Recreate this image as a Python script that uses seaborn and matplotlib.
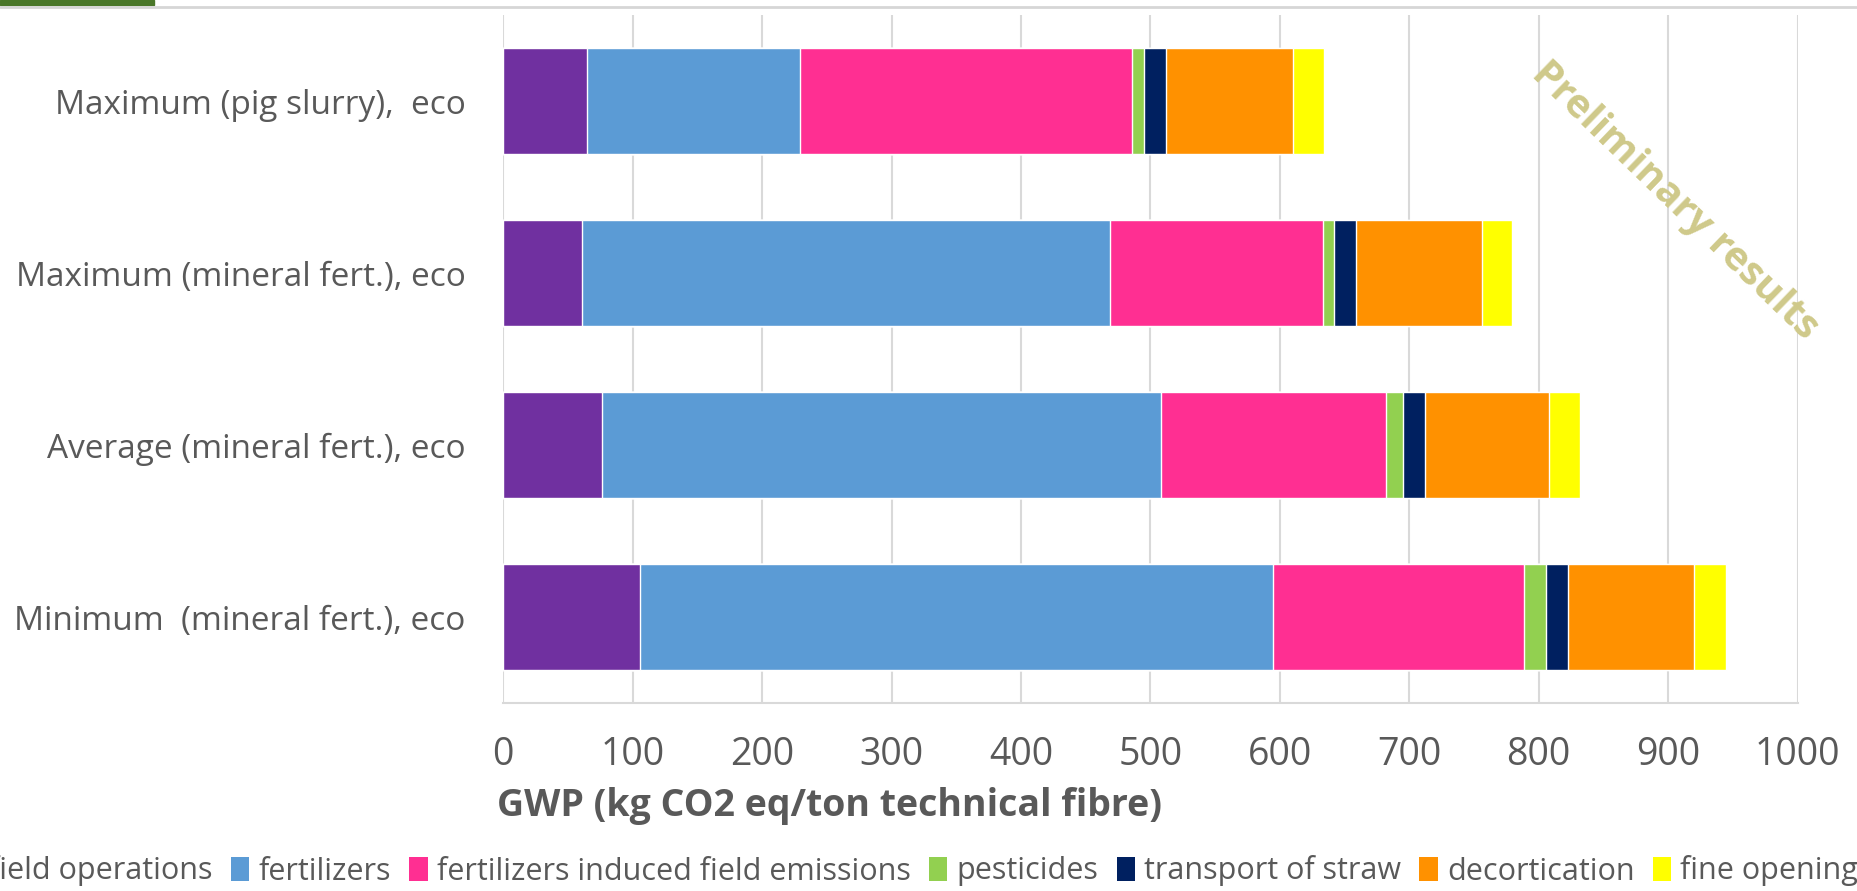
import pandas as pd
import matplotlib.pyplot as plt
from matplotlib.patches import Patch, Rectangle
from matplotlib.lines import Line2D
import seaborn as sns

# categories, top to bottom
scenarios = [
    "Maximum (pig slurry),  eco",
    "Maximum (mineral fert.), eco",
    "Average (mineral fert.), eco",
    "Minimum  (mineral fert.), eco",
]

# contributions (kg CO2 eq / ton technical fibre)
field_operations = [65, 61, 76, 106]
fertilizers = [164, 408, 432, 489]
induced_emissions = [257, 164, 174, 194]
pesticides = [9, 9, 13, 17]
transport_of_straw = [17, 17, 17, 17]
decortication = [98, 97, 96, 97]
fine_opening = [24, 23, 24, 25]

components = ["field operations", "fertilizers", "fertilizers induced field emissions",
              "pesticides", "transport of straw", "decortication", "fine opening"]
colors = ["#7030A0", "#5B9BD5", "#FF2F92", "#92D050", "#002060", "#FF9100", "#FFFF00"]

df = pd.DataFrame({
    "scenario": scenarios,
    "field operations": field_operations,
    "fertilizers": fertilizers,
    "fertilizers induced field emissions": induced_emissions,
    "pesticides": pesticides,
    "transport of straw": transport_of_straw,
    "decortication": decortication,
    "fine opening": fine_opening,
})
cum = df[components].cumsum(axis=1)

sns.set_style("white")
plt.rcParams["font.family"] = ["Open Sans", "DejaVu Sans"]
grey = "#595959"

fig = plt.figure(figsize=(18.57, 8.91), dpi=100)
ax = fig.add_axes([0.271, 0.211, 0.697, 0.772])

# stacked bars: draw cumulative totals from the longest down
for comp, col in reversed(list(zip(components, colors))):
    sns.barplot(x=cum[comp], y=df["scenario"], color=col, saturation=1,
                width=0.62, orient="h", ax=ax, zorder=3)

ax.set_xlim(0, 1000)
ax.set_ylim(3.5, -0.5)
ax.set_xticks(range(0, 1001, 100))
ax.grid(axis="x", color="#d9d9d9", lw=1.5, zorder=0)
ax.set_axisbelow(True)
for s in ["top", "right", "left"]:
    ax.spines[s].set_visible(False)
ax.spines["bottom"].set_color("#d9d9d9")
ax.spines["bottom"].set_linewidth(1.5)
ax.tick_params(axis="x", length=0, pad=24, labelsize=27, labelcolor=grey)
ax.tick_params(axis="y", length=0, pad=27, labelsize=24, labelcolor=grey)
ax.set_xlabel("")
ax.set_ylabel("")

fig.text(497 / 1857, 1 - 806 / 891, "GWP (kg CO2 eq/ton technical fibre)",
         fontsize=27, fontweight="bold", color=grey, ha="left", va="center")

# watermark
fig.text(1675 / 1857, 1 - 201 / 891, "Preliminary results", rotation=-44,
         rotation_mode="anchor", ha="center", va="center",
         fontsize=29, fontweight="bold", color="#CFC98A")

# slide decoration at the top
fig.patches.append(Rectangle((0, 1 - 5 / 891), 154 / 1857, 5 / 891,
                             transform=fig.transFigure, color="#4A7729"))
fig.lines.append(Line2D([0, 1], [1 - 6.5 / 891] * 2, transform=fig.transFigure,
                        color="#d6d6d6", lw=2))

handles = [Patch(facecolor=c, edgecolor="none") for c in colors]
leg = fig.legend(handles, components, loc="center", bbox_to_anchor=(0.49, 1 - 871 / 891),
                 ncol=7, frameon=False, fontsize=22, handlelength=0.6, handleheight=0.8,
                 handletextpad=0.3, columnspacing=0.6)
for t in leg.get_texts():
    t.set_color(grey)

fig.savefig("out.png", dpi=100)
